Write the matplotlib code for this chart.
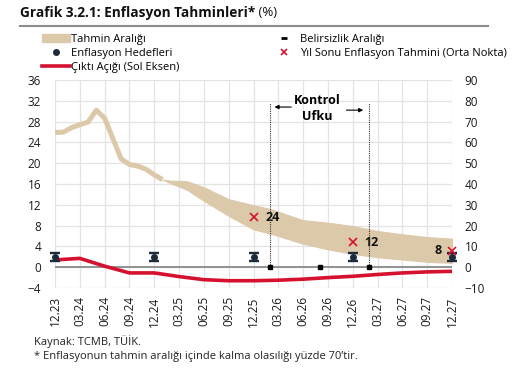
import matplotlib
matplotlib.use("Agg")
import matplotlib.pyplot as plt
from matplotlib.lines import Line2D
from matplotlib.patches import Patch

plt.rcParams['font.family'] = ['Open Sans', 'DejaVu Sans']

# ay indeksi: 0 = 12.23, 48 = 12.27
tick_labels = ['12.23', '03.24', '06.24', '09.24', '12.24', '03.25', '06.25', '09.25', '12.25',
               '03.26', '06.26', '09.26', '12.26', '03.27', '06.27', '09.27', '12.27']
tick_months = list(range(0, 49, 3))

# gerceklesen yillik enflasyon (sag eksen)
hist_months = list(range(0, 14))
hist_infl = [64.8, 64.9, 67.1, 68.5, 69.8, 75.5, 71.6, 61.8, 52.0, 49.4, 48.6, 47.1, 44.4, 42.1]

# tahmin araligi (sag eksen)
band_months = [13, 14, 15, 16, 18, 21, 24, 26, 30, 33, 36, 39, 42, 45, 48]
band_upper = [42.1, 41.6, 41.5, 41.3, 38.4, 32.7, 29.8, 28.0, 22.6, 21.4, 19.8, 17.4, 15.8, 14.5, 13.7]
band_lower = [42.1, 40.3, 38.8, 37.1, 31.9, 24.7, 18.2, 16.2, 11.3, 8.6, 6.4, 4.8, 3.7, 2.6, 2.1]

# enflasyon hedefleri
target_months = [0, 12, 24, 36, 48]
target_vals = [5, 5, 5, 5, 5]
target_err = 2

# yil sonu tahminleri
ye_months = [24, 36, 48]
ye_vals = [24, 12, 8]
ye_labels = ['24', '12', '8']

# belirsizlik araligi isaretleri
unc_months = [26, 32, 38]

# cikti acigi (sol eksen), ceyreklik
gap_months = list(range(0, 49, 3))
gap_vals = [1.4, 1.7, 0.2, -1.1, -1.1, -1.8, -2.4, -2.6, -2.6, -2.5, -2.3, -2.0, -1.75, -1.4, -1.1, -0.9, -0.8]

band_col = '#dcc9aa'
red = '#d5112f'
navy = '#1c2b3b'

fig = plt.figure(figsize=(5.21, 3.70), dpi=100)
ax = fig.add_axes([0.1056, 0.2216, 0.762, 0.5622])
ax2 = ax.twinx()

ax.set_xlim(0, 48)
ax.set_ylim(-4, 36)
ax2.set_ylim(-10, 90)
ax.set_yticks(range(-4, 37, 4))
ax2.set_yticks(range(-10, 91, 10))
ax.set_xticks(tick_months)
ax.set_xticklabels(tick_labels, rotation=90)
ax.grid(True, color='#e3e3e3', lw=0.9)
ax.set_axisbelow(True)
for a in (ax, ax2):
    for s in a.spines.values():
        s.set_visible(False)
    a.tick_params(length=0, labelsize=8.5, colors='#1a1a1a')
ax.tick_params(axis='y', pad=10)
ax2.tick_params(axis='y', pad=9)
ax.tick_params(axis='x', pad=6)
ax.axhline(0, color='#8a8a8a', lw=1.3, zorder=1)

# cikti acigi
ax.plot(gap_months, gap_vals, color=red, lw=2.6, zorder=3)

# enflasyon
ax2.plot(hist_months, hist_infl, color=band_col, lw=3.6, solid_capstyle='butt', zorder=2)
ax2.fill_between(band_months, band_lower, band_upper, color=band_col, lw=0.8, edgecolor=band_col, zorder=2)

ax2.errorbar(target_months, target_vals, yerr=target_err, fmt='o', color=navy, ms=4, elinewidth=0,
             capsize=3.5, capthick=1.7, zorder=5, clip_on=False)
ax2.plot(ye_months, ye_vals, 'x', color=red, ms=6, mew=1.2, zorder=6, clip_on=False)
for m, v, t in zip(ye_months, ye_vals, ye_labels):
    if m == 48:
        ax2.text(m - 1.2, v, t, ha='right', va='center', fontsize=9, fontweight='bold', color='#111111')
    else:
        ax2.text(m + 1.4, v, t, ha='left', va='center', fontsize=9, fontweight='bold', color='#111111')

ax2.plot(unc_months, [0] * len(unc_months), 's', color='black', ms=2.8, zorder=6)

# kontrol ufku
for m in (26, 38):
    ax2.plot([m, m], [0, 79], color='#333333', lw=0.8, ls=(0, (1, 1)), zorder=4)
ax2.text(31.7, 80, 'Kontrol', ha='center', va='center', fontsize=9, fontweight='bold')
ax2.text(31.7, 72.5, 'Ufku', ha='center', va='center', fontsize=9, fontweight='bold')
ax2.annotate('', xy=(26.2, 77), xytext=(28.9, 77),
             arrowprops=dict(arrowstyle='-|>', color='black', lw=0.8, mutation_scale=6))
ax2.annotate('', xy=(37.6, 75.5), xytext=(34.9, 75.5),
             arrowprops=dict(arrowstyle='-|>', color='black', lw=0.8, mutation_scale=6))

# lejant
h1 = [Patch(color=band_col),
      Line2D([], [], marker='o', color=navy, ls='none', ms=4),
      Line2D([], [], color=red, lw=2.6)]
l1 = ['Tahmin Aralığı', 'Enflasyon Hedefleri', 'Çıktı Açığı (Sol Eksen)']
fig.legend(h1, l1, loc='upper left', bbox_to_anchor=(42 / 521, 1 - 34 / 370), frameon=False,
           fontsize=8, handlelength=2.5, handleheight=0.7, handletextpad=0.1, labelspacing=0.25,
           borderpad=0, borderaxespad=0)
h2 = [Line2D([], [], marker='_', color='black', ls='none', ms=5, mew=2),
      Line2D([], [], marker='x', color=red, ls='none', ms=5, mew=1.2)]
l2 = ['Belirsizlik Aralığı', 'Yıl Sonu Enflasyon Tahmini (Orta Nokta)']
fig.legend(h2, l2, loc='upper left', bbox_to_anchor=(276 / 521, 1 - 34 / 370), frameon=False,
           fontsize=8, handlelength=1.4, handletextpad=0.8, labelspacing=0.25,
           borderpad=0, borderaxespad=0)

# baslik
t = fig.text(20 / 521, 1 - 13 / 370, 'Grafik 3.2.1: Enflasyon Tahminleri*', fontsize=9.8,
             fontweight='bold', va='center', color='#111111')
r = fig.canvas.get_renderer()
bb = t.get_window_extent(renderer=r)
fig.text(bb.x1 / fig.bbox.width, 1 - 13 / 370, ' (%)', fontsize=9.5, va='center', color='#111111')
fig.add_artist(Line2D([20 / 521, 488 / 521], [1 - 26 / 370, 1 - 26 / 370], transform=fig.transFigure,
                      color='#8c8c8c', lw=1.5))

fig.text(34 / 521, 1 - 342 / 370, 'Kaynak: TCMB, TÜİK.', fontsize=8, va='center', color='#222222')
fig.text(34 / 521, 1 - 357 / 370, '* Enflasyonun tahmin aralığı içinde kalma olasılığı yüzde 70’tir.',
         fontsize=8, va='center', color='#222222')

fig.savefig('out.png', dpi=100)
